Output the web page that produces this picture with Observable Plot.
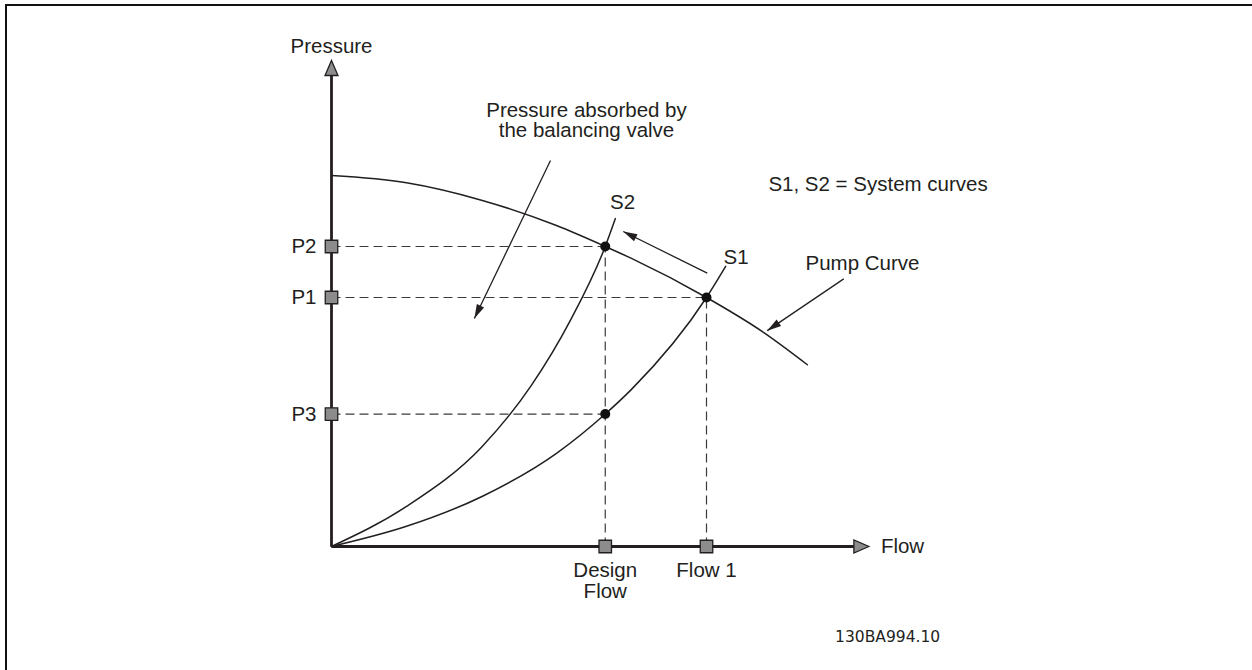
<!DOCTYPE html>
<html><head><meta charset="utf-8">
<script src="https://cdn.jsdelivr.net/npm/d3@7"></script>
<script src="https://cdn.jsdelivr.net/npm/@observablehq/plot@0.6"></script>
<style>
html,body{margin:0;padding:0;background:#fff;}
#wrap{position:relative;width:1252px;height:670px;overflow:hidden;}
#frame{position:absolute;left:5px;top:4px;right:-10px;bottom:-10px;border-top:2px solid #111;border-left:2px solid #111;pointer-events:none;}
#chart{position:absolute;left:0;top:0;}
</style></head><body>
<div id="wrap"><div id="chart"></div><div id="frame"></div></div>
<script>
// ---- Data (flow units, pressure units) ----
const pumpFlow     = [0, 20, 40, 60, 73, 80, 100, 115, 126.9];
const pumpPressure = [149, 146.1, 139.1, 128.9, 120.5, 115.7, 100, 86.2, 73];
const s1Flow       = [0, 20, 40, 60, 73, 80, 100, 105.1];
const s1Pressure   = [0, 8.1, 20, 37.4, 53.2, 63.1, 100, 112.5];
const s2Flow       = [0, 20, 40, 53.3, 63.7, 73, 75.7];
const s2Pressure   = [0, 16.1, 39.9, 64.7, 90.8, 120.5, 131.7];

const pressureLabels = ["P2", "P1", "P3"];
const pressureValues = [120.5, 100, 53.2];
const pressureReach  = [73, 100, 73];      // flow of the operating point each dashed line reaches

const flowLabels = ["Design\nFlow", "Flow 1"];
const flowValues = [73, 100];
const flowReach  = [120.5, 100];           // pressure of the operating point each dashed line reaches

const opFlow     = [73, 100, 73];
const opPressure = [120.5, 100, 53.2];

const centerNotes = ["Pressure absorbed by\nthe balancing valve", "S2", "S1"];
const centerFlow  = [68, 77.6, 107.9];
const centerPress = [171.1, 138.3, 116.2];
const startNotes  = ["S1, S2 = System curves", "Pump Curve"];
const startFlow   = [116.5, 126.4];
const startPress  = [145.4, 113.7];

const leaderFrom = [[58.4, 155.0], [136.6, 107.5], [100.2, 109.8]];
const leaderTo   = [[38.1, 91.6], [116.2, 86.7], [77.8, 126.5]];

const xAxisEnd = 143.3, yAxisEnd = 195.2;   // arrow tips of the axes
const docCode = "130BA994.10";

// ---- Layout ----
const W = 1252, H = 670, ML = 331, MR = 381, MT = 58, MB = 124;
const XD = [0, 144], YD = [0, 196];
const KX = (W - ML - MR) / (XD[1] - XD[0]);
const KY = (H - MT - MB) / (YD[1] - YD[0]);
const INK = "#231f20";

const series = (qs, ps) => qs.map((q, i) => ({q, p: ps[i]}));
const pump = series(pumpFlow, pumpPressure);
const s1 = series(s1Flow, s1Pressure);
const s2 = series(s2Flow, s2Pressure);
const pTicks = pressureLabels.map((label, i) => ({label, p: pressureValues[i], reach: pressureReach[i]}));
const fTicks = flowLabels.map((label, i) => ({label, q: flowValues[i], reach: flowReach[i]}));
const ops = series(opFlow, opPressure);
const cNotes = centerNotes.map((text, i) => ({text, q: centerFlow[i], p: centerPress[i]}));
const sNotes = startNotes.map((text, i) => ({text, q: startFlow[i], p: startPress[i]}));
const leaders = leaderFrom.map((f, i) => {
  const t = leaderTo[i];
  return {q1: f[0], p1: f[1], q2: t[0], p2: t[1],
          angle: Math.atan2((t[0] - f[0]) * KX, (t[1] - f[1]) * KY) * 180 / Math.PI};
});
const axes = [{q1: 0, p1: 0, q2: xAxisEnd - 3.9, p2: 0}, {q1: 0, p1: 0, q2: 0, p2: yAxisEnd - 6}];
const axisHeads = [{q: xAxisEnd, p: 0, angle: 90}, {q: 0, p: yAxisEnd, angle: 0}];

const tri = (L, w) => ({draw(ctx) { ctx.moveTo(0, 0); ctx.lineTo(w / 2, L); ctx.lineTo(-w / 2, L); ctx.closePath(); }});
const square = (s) => ({draw(ctx) { ctx.rect(-s / 2, -s / 2, s, s); }});

const FONT = 20.5;
const plot = Plot.plot({
  width: W, height: H,
  marginLeft: ML, marginRight: MR, marginTop: MT, marginBottom: MB,
  x: {domain: XD, axis: null},
  y: {domain: YD, axis: null},
  style: {fontFamily: "'Liberation Sans', Arial, sans-serif", color: INK, background: "transparent", overflow: "visible"},
  marks: [
    // dashed guides
    Plot.link(pTicks, {x1: 0, y1: "p", x2: "reach", y2: "p", stroke: "#3a3a3a", strokeWidth: 1.2, strokeDasharray: "9,5"}),
    Plot.link(fTicks, {x1: "q", y1: 0, x2: "q", y2: "reach", stroke: "#3a3a3a", strokeWidth: 1.2, strokeDasharray: "9,5"}),
    // curves
    Plot.line(pump, {x: "q", y: "p", curve: "monotone-x", stroke: INK, strokeWidth: 1.5}),
    Plot.line(s1, {x: "q", y: "p", curve: "monotone-x", stroke: INK, strokeWidth: 1.5}),
    Plot.line(s2, {x: "q", y: "p", curve: "monotone-x", stroke: INK, strokeWidth: 1.5}),
    // axes
    Plot.link(axes, {x1: "q1", y1: "p1", x2: "q2", y2: "p2", stroke: INK, strokeWidth: 2.8}),
    Plot.dot(axisHeads, {x: "q", y: "p", rotate: "angle", symbol: tri(15, 13), fill: "#8c8c8c", stroke: INK, strokeWidth: 1.3}),
    // tick squares
    Plot.dot(pTicks, {x: 0, y: "p", symbol: square(12.5), fill: "#8c8c8c", stroke: INK, strokeWidth: 1.3}),
    Plot.dot(fTicks, {x: "q", y: 0, symbol: square(12.5), fill: "#8c8c8c", stroke: INK, strokeWidth: 1.3}),
    // operating points
    Plot.dot(ops, {x: "q", y: "p", r: 5, fill: "#111", stroke: "none"}),
    // leader arrows
    Plot.link(leaders, {x1: "q1", y1: "p1", x2: "q2", y2: "p2", stroke: INK, strokeWidth: 1.3}),
    Plot.dot(leaders, {x: "q2", y: "p2", rotate: "angle", symbol: tri(14, 8), fill: INK, stroke: "none"}),
    // labels
    Plot.text(pTicks, {x: 0, y: "p", text: "label", dx: -15, textAnchor: "end", fontSize: FONT, fill: INK}),
    Plot.text(fTicks, {x: "q", y: 0, text: "label", lineAnchor: "top", dy: 15, fontSize: FONT, fill: INK, lineHeight: 1.03}),
    Plot.text([{q: xAxisEnd, p: 0}], {x: "q", y: "p", text: () => "Flow", dx: 12, textAnchor: "start", fontSize: FONT, fill: INK}),
    Plot.text([{q: 0, p: yAxisEnd}], {x: "q", y: "p", text: () => "Pressure", dy: -14.5, fontSize: FONT, fill: INK}),
    Plot.text(cNotes, {x: "q", y: "p", text: "text", fontSize: FONT, fill: INK, lineHeight: 1.0}),
    Plot.text(sNotes, {x: "q", y: "p", text: "text", textAnchor: "start", fontSize: FONT, fill: INK}),
    Plot.text([{q: 148.3, p: -36.5}], {x: "q", y: "p", text: () => docCode, fontSize: 15.5, fill: INK, fontFamily: "'DejaVu Sans', Verdana, sans-serif"})
  ]
});
document.getElementById("chart").appendChild(plot);
</script>
</body></html>
